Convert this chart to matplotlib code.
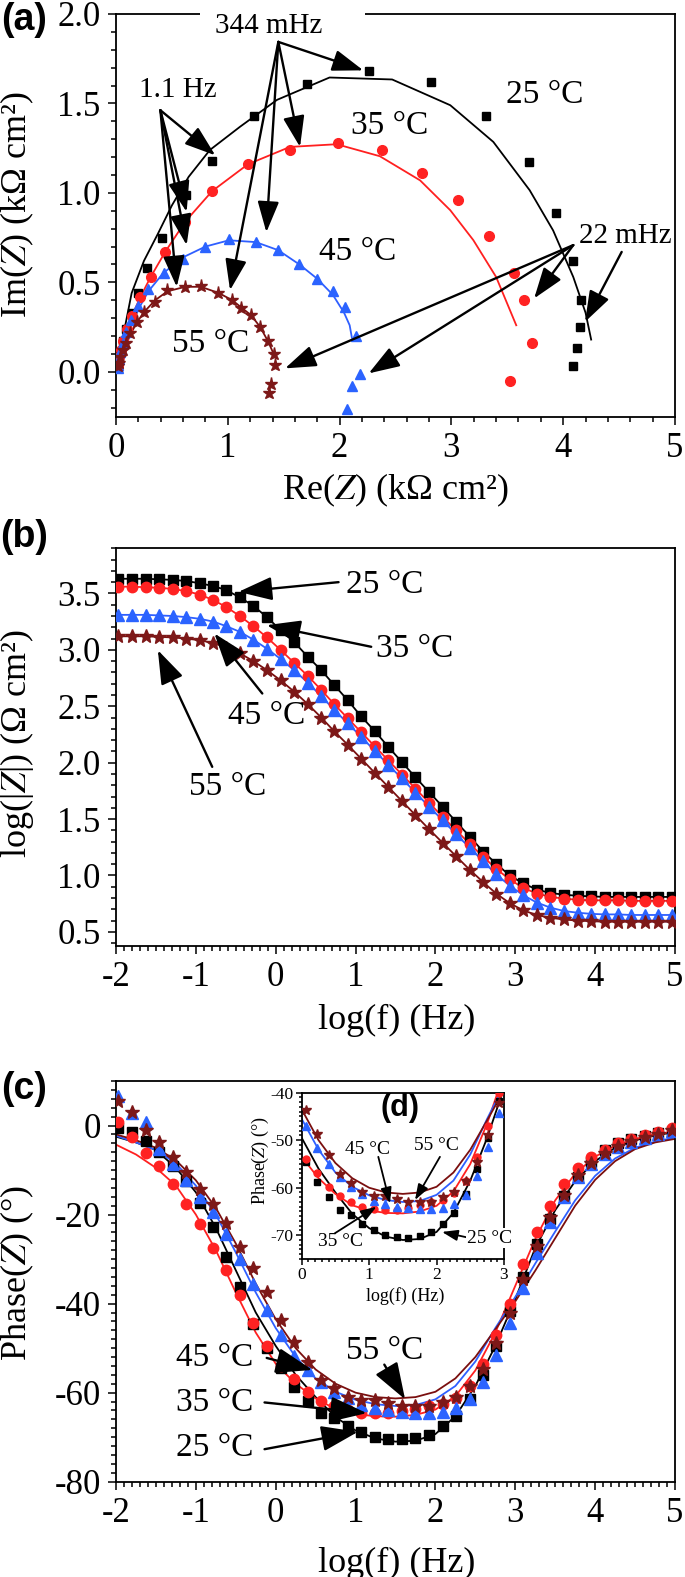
import matplotlib
matplotlib.use('Agg')
import matplotlib.pyplot as plt
from matplotlib.patches import Rectangle
from matplotlib.ticker import MultipleLocator, FormatStrFormatter

plt.rcParams['font.family'] = ['Liberation Serif', 'DejaVu Serif']
plt.rcParams['mathtext.fontset'] = 'stix'
plt.rcParams['axes.unicode_minus'] = False

# ---------------- data ----------------
TEMPS = ['25 °C', '35 °C', '45 °C', '55 °C']
COLORS = ['#000000', '#ff2222', '#2b63ff', '#7d1818']
LINE_COLORS = ['#000000', '#ff2020', '#2f5fff', '#7a0f0f']
MARKERS = ['s', 'o', '^', '*']

# (a) Nyquist: measured points (low -> high frequency)
RE25 = [4.085, 4.126, 4.15, 4.16, 4.09, 3.94, 3.69, 3.31, 2.82, 2.26, 1.71, 1.23, 0.86, 0.63, 0.41, 0.28, 0.20, 0.14, 0.09, 0.06, 0.04, 0.03, 0.02, 0.015]
IM25 = [0.034, 0.131, 0.248, 0.40, 0.62, 0.89, 1.17, 1.43, 1.62, 1.68, 1.61, 1.43, 1.18, 0.99, 0.75, 0.58, 0.44, 0.33, 0.24, 0.17, 0.11, 0.07, 0.04, 0.02]
RE35 = [3.52, 3.72, 3.65, 3.56, 3.34, 3.06, 2.74, 2.38, 1.99, 1.56, 1.18, 0.86, 0.62, 0.44, 0.31, 0.215, 0.14, 0.096, 0.065, 0.045, 0.03, 0.02, 0.015]
IM35 = [-0.05, 0.16, 0.40, 0.55, 0.76, 0.96, 1.11, 1.24, 1.28, 1.24, 1.16, 1.01, 0.84, 0.67, 0.53, 0.42, 0.31, 0.24, 0.17, 0.12, 0.08, 0.05, 0.03]
RE45 = [2.07, 2.11, 2.18, 2.15, 2.05, 1.94, 1.80, 1.64, 1.45, 1.25, 1.01, 0.80, 0.60, 0.425, 0.29, 0.20, 0.13, 0.085, 0.06, 0.04, 0.03, 0.02, 0.015]
IM45 = [-0.21, -0.08, -0.01, 0.20, 0.36, 0.45, 0.52, 0.60, 0.68, 0.725, 0.74, 0.70, 0.63, 0.55, 0.46, 0.37, 0.29, 0.22, 0.16, 0.11, 0.07, 0.04, 0.02]
RE55 = [1.37, 1.39, 1.42, 1.41, 1.36, 1.29, 1.21, 1.12, 1.035, 0.915, 0.76, 0.617, 0.453, 0.35, 0.253, 0.185, 0.125, 0.085, 0.06, 0.04, 0.03, 0.02]
IM55 = [-0.12, -0.07, 0.04, 0.10, 0.17, 0.25, 0.32, 0.355, 0.40, 0.44, 0.48, 0.475, 0.456, 0.39, 0.335, 0.28, 0.214, 0.16, 0.12, 0.08, 0.05, 0.03]

# (a) fitted curves
FRE25 = [0.0, 0.03, 0.08, 0.14, 0.25, 0.376, 0.50, 0.65, 0.84, 1.11, 1.44, 1.91, 2.47, 2.99, 3.375, 3.70, 3.91, 4.09, 4.20, 4.25]
FIM25 = [0.0, 0.10, 0.25, 0.44, 0.62, 0.773, 0.93, 1.09, 1.24, 1.37, 1.52, 1.645, 1.634, 1.49, 1.285, 1.015, 0.79, 0.53, 0.33, 0.18]
FRE35 = [0.0, 0.03, 0.08, 0.14, 0.22, 0.31, 0.44, 0.62, 0.86, 1.18, 1.556, 1.974, 2.36, 2.72, 2.99, 3.196, 3.40, 3.50, 3.58]
FIM35 = [0.0, 0.08, 0.20, 0.31, 0.42, 0.53, 0.67, 0.84, 1.01, 1.16, 1.257, 1.272, 1.205, 1.07, 0.903, 0.736, 0.53, 0.38, 0.26]
FRE45 = [0.0, 0.03, 0.07, 0.13, 0.20, 0.29, 0.42, 0.60, 0.80, 1.01, 1.25, 1.45, 1.64, 1.80, 1.94, 2.04, 2.09, 2.11]
FIM45 = [0.0, 0.06, 0.14, 0.25, 0.35, 0.45, 0.55, 0.64, 0.70, 0.735, 0.725, 0.68, 0.60, 0.52, 0.43, 0.33, 0.26, 0.19]
FRE55 = [0.0, 0.02, 0.05, 0.09, 0.13, 0.19, 0.26, 0.35, 0.46, 0.62, 0.76, 0.92, 1.04, 1.13, 1.21, 1.29, 1.36, 1.41]
FIM55 = [0.0, 0.04, 0.09, 0.15, 0.21, 0.28, 0.34, 0.40, 0.45, 0.475, 0.475, 0.44, 0.40, 0.355, 0.315, 0.25, 0.17, 0.10]

# (b)/(c) Bode: measured log frequencies
LOGF = [-1.97, -1.80, -1.63, -1.46, -1.29, -1.12, -0.95, -0.78, -0.62, -0.45, -0.28, -0.11,
        0.06, 0.23, 0.40, 0.57, 0.73, 0.90, 1.07, 1.24, 1.41, 1.58, 1.75, 1.92, 2.09, 2.26,
        2.43, 2.60, 2.76, 2.93, 3.10, 3.27, 3.44, 3.61, 3.78, 3.95, 4.12, 4.29, 4.45, 4.62, 4.79, 4.96]
LOGZ25 = [3.63, 3.63, 3.63, 3.625, 3.62, 3.61, 3.59, 3.565, 3.53, 3.465, 3.39, 3.29, 3.175, 3.07, 2.94, 2.82, 2.69, 2.555, 2.41, 2.28, 2.14, 2.005, 1.87, 1.74, 1.61, 1.475, 1.345, 1.21, 1.105, 1.00, 0.93, 0.875, 0.845, 0.83, 0.82, 0.815, 0.81, 0.81, 0.81, 0.81, 0.81, 0.81]
LOGZ35 = [3.56, 3.56, 3.555, 3.55, 3.54, 3.52, 3.49, 3.44, 3.38, 3.30, 3.21, 3.11, 3.00, 2.885, 2.77, 2.645, 2.52, 2.395, 2.27, 2.145, 2.02, 1.895, 1.77, 1.645, 1.52, 1.40, 1.28, 1.165, 1.06, 0.965, 0.89, 0.84, 0.81, 0.795, 0.785, 0.78, 0.78, 0.78, 0.775, 0.775, 0.775, 0.775]
LOGZ45 = [3.31, 3.31, 3.31, 3.305, 3.30, 3.29, 3.275, 3.25, 3.21, 3.16, 3.09, 3.01, 2.92, 2.82, 2.71, 2.59, 2.47, 2.35, 2.23, 2.105, 1.98, 1.86, 1.735, 1.61, 1.49, 1.365, 1.245, 1.125, 1.01, 0.91, 0.825, 0.76, 0.715, 0.685, 0.67, 0.66, 0.655, 0.655, 0.65, 0.65, 0.65, 0.65]
LOGZ55 = [3.12, 3.12, 3.12, 3.115, 3.11, 3.10, 3.085, 3.06, 3.02, 2.97, 2.90, 2.82, 2.73, 2.63, 2.52, 2.40, 2.28, 2.16, 2.035, 1.91, 1.785, 1.66, 1.535, 1.41, 1.29, 1.17, 1.05, 0.94, 0.84, 0.755, 0.69, 0.65, 0.625, 0.61, 0.60, 0.595, 0.59, 0.59, 0.59, 0.59, 0.59, 0.59]

PH25 = [-0.5, -1.5, -3.5, -6.0, -9.0, -12.5, -17.5, -22.8, -29.5, -36.2, -44.5, -50.0, -54.5, -58.8, -61.9, -64.6, -65.7, -67.6, -68.8, -69.9, -70.3, -70.5, -70.2, -69.4, -67.6, -65.3, -61.4, -56.0, -49.5, -41.7, -34.0, -26.7, -20.9, -15.9, -11.6, -8.1, -5.4, -3.9, -3.1, -2.3, -1.7, -1.2]
PH35 = [0.8, -2.5, -6.2, -9.0, -13.1, -17.6, -22.2, -27.6, -32.4, -38.1, -44.3, -49.6, -54.0, -57.0, -59.8, -61.8, -63.0, -64.0, -64.5, -64.6, -64.6, -64.2, -63.6, -63.0, -62.6, -61.2, -58.5, -53.6, -47.0, -40.0, -31.0, -24.0, -18.0, -13.2, -9.5, -7.0, -5.4, -4.0, -3.1, -2.1, -1.4, -0.5]
PH45 = [6.7, 2.8, 0.7, -5.2, -8.6, -12.3, -16.1, -19.4, -24.4, -29.9, -35.5, -41.5, -47.0, -51.7, -55.0, -57.7, -59.8, -61.3, -62.8, -63.5, -64.0, -64.3, -64.5, -64.5, -64.3, -63.5, -61.5, -57.5, -51.5, -44.3, -36.6, -28.6, -21.7, -16.1, -11.6, -8.6, -6.5, -4.9, -3.7, -2.7, -1.9, -1.2]
PH55 = [5.6, 3.0, -1.1, -3.7, -7.1, -10.5, -14.2, -17.6, -22.0, -27.3, -32.1, -37.4, -43.7, -48.6, -53.1, -57.2, -59.0, -60.9, -61.7, -61.7, -62.4, -63.0, -63.0, -63.0, -62.0, -60.9, -58.5, -54.6, -48.9, -42.2, -34.5, -27.0, -20.5, -15.5, -11.2, -8.4, -6.2, -4.6, -3.5, -2.6, -1.8, -1.0]

# (c) fitted phase curves
FITF = [-2.0, -1.75, -1.5, -1.25, -1.0, -0.75, -0.5, -0.25, 0.0, 0.25, 0.5, 0.75, 1.0, 1.25, 1.5,
        1.75, 2.0, 2.25, 2.5, 2.75, 3.0, 3.25, 3.5, 3.75, 4.0, 4.25, 4.5, 4.75, 5.0]
FIT25 = [-2.5, -3.8, -5.5, -9.5, -15.0, -23.0, -32.5, -42.0, -49.5, -56.0, -61.0, -65.5, -68.5, -70.3, -71.0, -70.8, -69.3, -65.3, -58.5, -49.5, -39.0, -27.5, -19.0, -12.5, -8.0, -5.0, -3.3, -2.2, -1.5]
FIT35 = [-4.3, -6.5, -9.5, -13.5, -20.0, -28.0, -37.5, -46.5, -53.5, -58.0, -61.3, -63.7, -64.8, -65.3, -65.4, -65.0, -63.8, -60.8, -55.0, -46.5, -36.0, -25.5, -16.8, -10.8, -7.0, -4.5, -3.0, -2.0, -1.3]
FIT45 = [-2.3, -3.8, -5.5, -8.5, -13.5, -20.0, -28.5, -37.5, -45.5, -52.0, -56.8, -59.8, -61.6, -62.6, -63.0, -62.8, -61.5, -58.5, -53.0, -45.5, -38.5, -31.0, -23.8, -16.8, -11.3, -7.4, -5.0, -3.6, -2.7]
FIT55 = [-2.0, -3.3, -5.0, -7.8, -12.3, -18.5, -26.5, -35.5, -43.5, -50.0, -54.8, -58.0, -60.0, -61.0, -61.3, -61.0, -59.8, -56.8, -52.0, -45.8, -39.5, -32.6, -25.3, -18.0, -12.2, -8.0, -5.3, -3.8, -3.0]

NYQ = [(RE25, IM25), (RE35, IM35), (RE45, IM45), (RE55, IM55)]
NYQFIT = [(FRE25, FIM25), (FRE35, FIM35), (FRE45, FIM45), (FRE55, FIM55)]
LOGZ = [LOGZ25, LOGZ35, LOGZ45, LOGZ55]
PH = [PH25, PH35, PH45, PH55]
PHFIT = [FIT25, FIT35, FIT45, FIT55]

# ---------------- figure ----------------
W, H = 685, 1577
fig = plt.figure(figsize=(W / 100, H / 100), dpi=100)
RIGHT = 675


def rect(left, top, right, bottom):
    return [left / W, 1 - bottom / H, (right - left) / W, (bottom - top) / H]


def style(ax, ts=25, major=6, minor=3.5):
    ax.tick_params(which='both', direction='out', top=False, right=False, width=1.1,
                   labelsize=ts)
    ax.tick_params(which='major', length=major, pad=5)
    ax.tick_params(which='minor', length=minor)
    for s in ax.spines.values():
        s.set_linewidth(1.3)


def arrow(ax, tail, head, ms=20, hl=0.95, hw=0.33, lw=1.7):
    ax.annotate('', xy=head, xytext=tail, annotation_clip=False,
                arrowprops=dict(arrowstyle=f'-|>,head_length={hl},head_width={hw}',
                                mutation_scale=ms, lw=lw, color='black',
                                shrinkA=0, shrinkB=0), zorder=6)


def labels(ax, xl, yl, xpos, ypos, fs=26):
    ax.set_xlabel(xl, fontsize=fs)
    ax.set_ylabel(yl, fontsize=fs)
    ax.xaxis.set_label_coords(*xpos)
    ax.yaxis.set_label_coords(*ypos)
    ax.xaxis.label.set_va('center')
    ax.yaxis.label.set_va('center')
    ax.yaxis.label.set_ha('center')


# ---------- (a) ----------
ax = fig.add_axes(rect(116, 14, RIGHT, 416.5))
style(ax)
ms_a = [6.0, 7.0, 7.5, 9.5]
for i in range(4):
    fx, fy = NYQFIT[i]
    ax.plot(fx, fy, '-', color=LINE_COLORS[i], lw=1.3, zorder=2)
for i in range(4):
    x, y = NYQ[i]
    ax.plot(x, y, linestyle='none', marker=MARKERS[i], ms=ms_a[i], color=COLORS[i],
            mec=COLORS[i], zorder=3)
ax.set_xlim(0, 5)
ax.set_ylim(-0.25, 2.0)
ax.xaxis.set_major_locator(MultipleLocator(1))
ax.xaxis.set_minor_locator(MultipleLocator(0.2))
ax.yaxis.set_major_locator(MultipleLocator(0.5))
ax.yaxis.set_minor_locator(MultipleLocator(0.1))
ax.yaxis.set_major_formatter(FormatStrFormatter('%.1f'))
labels(ax, r'Re($Z$) (kΩ cm²)', r'Im($Z$) (kΩ cm²)', (0.50, -0.183), (-0.177, 0.525))
ax.add_patch(Rectangle((0.75, 1.93), 1.48, 0.15, facecolor='white', edgecolor='none',
                       zorder=3.5, clip_on=False))
ta = dict(fontsize=24, ha='center', va='center', zorder=7)
ax.text(3.837, 1.546, '25 °C', **ta)
ax.text(2.45, 1.378, '35 °C', **ta)
ax.text(2.165, 0.670, '45 °C', **ta)
ax.text(0.847, 0.155, '55 °C', **ta)
tf = dict(fontsize=21, ha='center', va='center', zorder=7)
ax.text(1.362, 1.935, '344 mHz', **tf)
ax.text(0.555, 1.574, '1.1 Hz', **tf)
ax.text(4.56, 0.758, '22 mHz', **tf)
for h in [(2.212, 1.685), (1.646, 1.257), (1.345, 0.78), (1.02, 0.456)]:
    arrow(ax, (1.452, 1.844), h)
for h in [(0.888, 1.21), (0.632, 0.894), (0.632, 0.708), (0.543, 0.475)]:
    arrow(ax, (0.397, 1.462), h)
for h in [(3.74, 0.41), (2.26, -0.009), (1.512, 0.019)]:
    arrow(ax, (4.09, 0.708), h)
arrow(ax, (4.523, 0.67), (4.195, 0.279))

# ---------- (b) ----------
ax = fig.add_axes(rect(116, 548.3, RIGHT, 946))
style(ax)
ms_b = [6.5, 7.5, 8.0, 10.5]
for i in range(4):
    ax.plot(LOGF, LOGZ[i], '-', color=LINE_COLORS[i], lw=1.3, zorder=2)
for i in range(4):
    ax.plot(LOGF, LOGZ[i], linestyle='none', marker=MARKERS[i], ms=ms_b[i],
            color=COLORS[i], zorder=3)
ax.set_xlim(-2, 5)
ax.set_ylim(0.375, 3.9)
ax.xaxis.set_major_locator(MultipleLocator(1))
ax.xaxis.set_minor_locator(MultipleLocator(0.1))
ax.yaxis.set_major_locator(MultipleLocator(0.5))
ax.yaxis.set_minor_locator(MultipleLocator(0.1))
ax.yaxis.set_major_formatter(FormatStrFormatter('%.1f'))
labels(ax, 'log(f) (Hz)', r'log(|$Z$|) (Ω cm²)', (0.503, -0.186), (-0.177, 0.508))
ax.text(1.36, 3.574, '25 °C', **ta)
ax.text(1.74, 3.01, '35 °C', **ta)
ax.text(-0.113, 2.42, '45 °C', **ta)
ax.text(-0.604, 1.786, '55 °C', **ta)
arrow(ax, (0.787, 3.60), (-0.467, 3.514), ms=22)
arrow(ax, (1.196, 3.027), (-0.113, 3.219), ms=22)
arrow(ax, (-0.168, 2.613), (-0.768, 3.145), ms=22)
arrow(ax, (-0.795, 1.963), (-1.476, 2.997), ms=22)

# ---------- (c) ----------
axc = fig.add_axes(rect(116, 1081, RIGHT, 1481.7))
style(axc)
for i in range(4):
    axc.plot(FITF, PHFIT[i], '-', color=LINE_COLORS[i], lw=1.3, zorder=2)
for i in range(4):
    axc.plot(LOGF, PH[i], linestyle='none', marker=MARKERS[i], ms=ms_b[i],
             color=COLORS[i], zorder=3)
axc.set_xlim(-2, 5)
axc.set_ylim(-80, 10)
axc.xaxis.set_major_locator(MultipleLocator(1))
axc.xaxis.set_minor_locator(MultipleLocator(0.1))
axc.yaxis.set_major_locator(MultipleLocator(20))
axc.yaxis.set_minor_locator(MultipleLocator(2))
labels(axc, 'log(f) (Hz)', r'Phase($Z$) (°)', (0.503, -0.203), (-0.176, 0.521))
axc.text(-0.768, -52.2, '45 °C', **ta)
axc.text(-0.768, -62.2, '35 °C', **ta)
axc.text(-0.768, -72.3, '25 °C', **ta)
axc.text(1.36, -50.6, '55 °C', **ta)
arrow(axc, (-0.113, -52.2), (0.459, -54.9), ms=24)
arrow(axc, (-0.14, -62.2), (1.14, -64.6), ms=24)
arrow(axc, (-0.14, -72.7), (1.03, -68.8), ms=24)
arrow(axc, (1.36, -53.7), (1.62, -61.5), ms=24)

# ---------- (d) inset ----------
axd = fig.add_axes(rect(301.7, 1092.7, 504, 1259), zorder=5)
axd.set_facecolor('white')
style(axd, ts=12.5, major=4, minor=2.2)
axd.tick_params(which='major', pad=2)
ms_d = [4.0, 5.0, 5.5, 7.0]
for i in range(4):
    axd.plot(FITF, PHFIT[i], '-', color=LINE_COLORS[i], lw=1.3, zorder=2)
for i in range(4):
    axd.plot(LOGF, PH[i], linestyle='none', marker=MARKERS[i], ms=ms_d[i],
             color=COLORS[i], zorder=3)
axd.set_xlim(0, 3)
axd.set_ylim(-75, -40)
axd.xaxis.set_major_locator(MultipleLocator(1))
axd.xaxis.set_minor_locator(MultipleLocator(0.1))
axd.yaxis.set_major_locator(MultipleLocator(10))
axd.yaxis.set_minor_locator(MultipleLocator(1))
labels(axd, 'log(f) (Hz)', r'Phase($Z$) (°)', (0.51, -0.222), (-0.203, 0.595), fs=13)
td = dict(fontsize=14, ha='center', va='center', zorder=7)
axd.text(0.983, -51.9, '45 °C', **td)
axd.text(2.0, -51.2, '55 °C', **td)
axd.text(0.568, -71.4, '35 °C', **td)
axd.text(2.79, -70.6, '25 °C', clip_on=False,
         bbox=dict(facecolor='white', edgecolor='none', pad=1), **td)
arrow(axd, (1.136, -53.5), (1.31, -63.3), ms=10, lw=1.3)
arrow(axd, (2.05, -53.5), (1.68, -62.6), ms=10, lw=1.3)
arrow(axd, (0.49, -69.6), (1.11, -64.0), ms=10, lw=1.3)
arrow(axd, (2.5, -70.6), (2.08, -69.3), ms=10, lw=1.3)

# ---------- panel letters ----------
pl = dict(fontsize=27, fontweight='bold', family=['Liberation Sans', 'DejaVu Sans'],
          ha='center', va='center')
fig.text(24 / W, 1 - 20 / H, '(a)', **pl)
fig.text(24 / W, 1 - 537 / H, '(b)', **pl)
fig.text(24 / W, 1 - 1089 / H, '(c)', **pl)
fig.text(400 / W, 1 - 1108 / H, '(d)', **dict(pl, fontsize=22), zorder=10)

fig.savefig('out.png', dpi=100)
